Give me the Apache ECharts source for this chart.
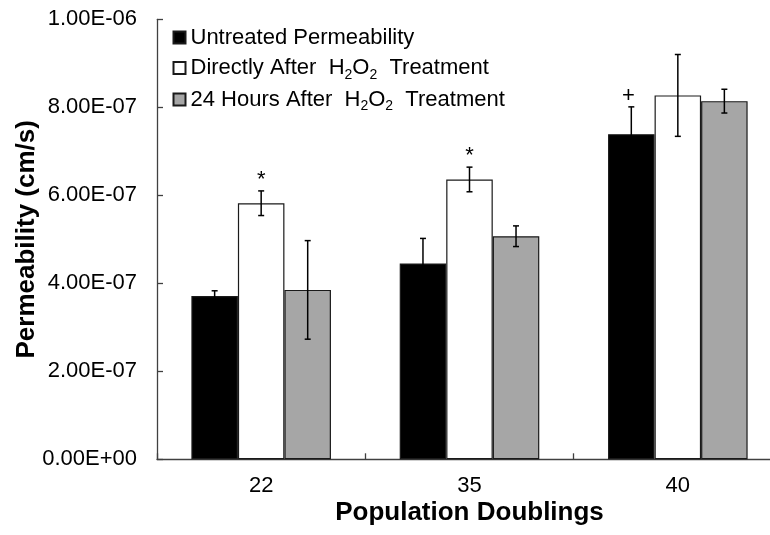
<!DOCTYPE html>
<html>
<head>
<meta charset="utf-8">
<script src="https://cdn.jsdelivr.net/npm/echarts@6/dist/echarts.min.js"></script>
<style>
  html, body { margin: 0; padding: 0; background: #fff; }
  #chart { width: 770px; height: 535px; }
</style>
</head>
<body>
<div id="chart"></div>
<script>
(function(){
    // values
    let categories = ['22', '35', '40'];
    let seriesNames = ['Untreated Permeability', 'Directly After  H2O2  Treatment', '24 Hours After  H2O2  Treatment'];

    let untreated    = [3.71e-7, 4.45e-7, 7.39e-7];
    let untreatedErr = [0.12e-7, 0.57e-7, 0.62e-7];
    let direct       = [5.82e-7, 6.36e-7, 8.27e-7];
    let directErr    = [0.28e-7, 0.28e-7, 0.93e-7];
    let after24      = [3.85e-7, 5.07e-7, 8.14e-7];
    let after24Err   = [1.12e-7, 0.235e-7, 0.27e-7];

    // significance marks drawn above the error bars
    let untreatedMarks = ['', '', '+'];
    let directMarks    = ['*', '*', ''];
    let after24Marks   = ['', '', ''];

    let yTicks = [0, 2e-7, 4e-7, 6e-7, 8e-7, 1e-6];

    let font = 'Arial, "Liberation Sans", sans-serif';
    let axisColor = '#404040';
    let catGap = 0.33;
    let colors = ['#000000', '#ffffff', '#a6a6a6'];

    let fmtExp = function(v){
        if (Math.abs(v) < 1e-20) return '0.00E+00';
        let s = v.toExponential(2).split('e');
        let exp = parseInt(s[1], 10);
        let sign = exp < 0 ? '-' : '+';
        let e = Math.abs(exp);
        return s[0] + 'E' + sign + (e < 10 ? '0' + e : '' + e);
    };

    let fmtLegend = function(name){
        return name.replace(/H2O2/g, 'H{sub|2}O{sub|2}');
    };

    let makeErrorSeries = function(pos, values, errs, marks){
        return {
            type: 'custom',
            name: 'err' + pos,
            z: 10,
            silent: true,
            encode: { x: 0, y: 1 },
            data: values.map((v, i) => [i, v, errs[i]]),
            renderItem: function(params, api){
                let idx = api.value(0);
                let val = api.value(1);
                let err = api.value(2);
                let band = api.size([1, 0])[0];
                let barW = band * (1 - catGap) / 3;
                let c = api.coord([idx, val]);
                let x = c[0] + (pos - 1) * barW;
                let top = api.coord([idx, val + err])[1];
                let bot = api.coord([idx, val - err])[1];
                let cap = 3;
                let lineStyle = { stroke: '#000', lineWidth: 1.5 };
                let children = [
                    { type: 'line', shape: { x1: x, y1: top, x2: x, y2: bot }, style: lineStyle },
                    { type: 'line', shape: { x1: x - cap, y1: top, x2: x + cap, y2: top }, style: lineStyle },
                    { type: 'line', shape: { x1: x - cap, y1: bot, x2: x + cap, y2: bot }, style: lineStyle }
                ];
                let mark = marks[params.dataIndex];
                if (mark){
                    children.push({
                        type: 'text',
                        style: {
                            text: mark,
                            x: x - (mark === '+' ? 3 : 0),
                            y: top - 11,
                            align: 'center',
                            verticalAlign: 'middle',
                            fontSize: 22,
                            fontFamily: font,
                            fill: '#000'
                        }
                    });
                }
                return { type: 'group', children: children };
            }
        };
    };

    let makeLegend = function(name, top){
        return {
            data: [name],
            left: 172.5,
            top: top,
            padding: 0,
            orient: 'vertical',
            icon: 'rect',
            itemWidth: 12,
            itemHeight: 12,
            selectedMode: false,
            formatter: fmtLegend,
            textStyle: {
                fontFamily: font,
                fontSize: 22,
                color: '#000',
                lineHeight: 28,
                rich: {
                    sub: { fontSize: 14, fontFamily: font, color: '#000', lineHeight: 14, verticalAlign: 'top', padding: [14, 0, 0, 0] }
                }
            }
        };
    };

    let barStyle = function(c){
        return { color: c, borderColor: '#1a1a1a', borderWidth: 1.2 };
    };

    let opts = {
        animation: false,
        backgroundColor: '#fff',
        textStyle: { fontFamily: font },
        legend: [
            makeLegend(seriesNames[0], 23.5),
            makeLegend(seriesNames[1], 54),
            makeLegend(seriesNames[2], 85.5)
        ],
        grid: {
            left: 157,
            right: -12,
            top: 19.3,
            bottom: 75.7,
            outerBoundsMode: 'none',
            containLabel: false
        },
        xAxis: {
            type: 'category',
            data: categories,
            name: 'Population Doublings',
            nameLocation: 'middle',
            nameGap: 41,
            nameMoveOverlap: false,
            nameTextStyle: { fontFamily: font, fontSize: 26, fontWeight: 'bold', color: '#000' },
            axisLine: { show: true, lineStyle: { color: axisColor, width: 1.3 } },
            axisTick: { show: true, inside: true, length: 6, alignWithLabel: false, lineStyle: { color: axisColor, width: 1.3 } },
            axisLabel: { fontFamily: font, fontSize: 22, color: '#000', margin: 16 },
            splitLine: { show: false }
        },
        yAxis: {
            type: 'value',
            min: yTicks[0],
            max: yTicks[yTicks.length - 1],
            interval: yTicks[1] - yTicks[0],
            name: 'Permeability (cm/s)',
            nameLocation: 'middle',
            nameGap: 117,
            nameMoveOverlap: false,
            nameTextStyle: { fontFamily: font, fontSize: 26, fontWeight: 'bold', color: '#000' },
            axisLine: { show: true, lineStyle: { color: axisColor, width: 1.3 } },
            axisTick: { show: true, inside: true, length: 6, lineStyle: { color: axisColor, width: 1.3 } },
            axisLabel: { fontFamily: font, fontSize: 22, color: '#000', margin: 20, formatter: fmtExp },
            splitLine: { show: false }
        },
        series: [
            { type: 'bar', name: seriesNames[0], data: untreated, itemStyle: barStyle(colors[0]), barGap: '0%', barCategoryGap: (catGap * 100) + '%' },
            { type: 'bar', name: seriesNames[1], data: direct, itemStyle: barStyle(colors[1]), barGap: '0%', barCategoryGap: (catGap * 100) + '%' },
            { type: 'bar', name: seriesNames[2], data: after24, itemStyle: barStyle(colors[2]), barGap: '0%', barCategoryGap: (catGap * 100) + '%' },
            makeErrorSeries(0, untreated, untreatedErr, untreatedMarks),
            makeErrorSeries(1, direct, directErr, directMarks),
            makeErrorSeries(2, after24, after24Err, after24Marks)
        ]
    };

    let chart = echarts.init(document.getElementById('chart'));
    chart.setOption(opts);
})();
</script>
</body>
</html>
